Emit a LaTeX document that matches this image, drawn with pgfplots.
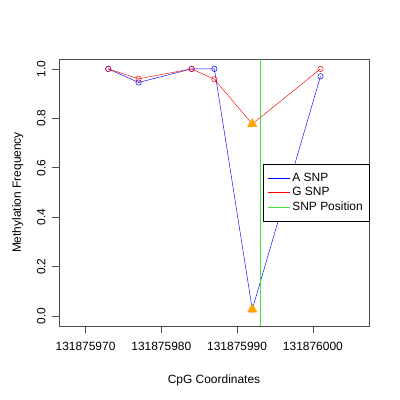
\documentclass[border=0pt]{standalone}
\usepackage{pgfplots}
\pgfplotsset{compat=1.18}
\usepackage{fontspec}
\setmainfont{Liberation Sans}
\definecolor{rorange}{HTML}{FFA500}
\definecolor{rblue}{HTML}{0000FF}
\definecolor{rred}{HTML}{FF0000}
\definecolor{rgreen}{HTML}{44E044}
\begin{document}
\begin{tikzpicture}
\path[use as bounding box] (0,0) rectangle (400bp,400bp);
\begin{axis}[
  at={(59bp,74bp)}, anchor=south west,
  scale only axis, width=310bp, height=267bp,
  xmin=6.5, xmax=47.4,
  ymin=-0.04, ymax=1.04,
  axis line style={black!70, line width=0.8pt},
  xtick={10,20,30,40},
  xticklabels={131875970,131875980,131875990,131876000},
  ytick={0,0.2,0.4,0.6,0.8,1.0},
  yticklabels={0.0,0.2,0.4,0.6,0.8,1.0},
  tick align=outside, tick pos=left,
  major tick length=7bp,
  tick style={black!70, line width=0.6pt},
  ticklabel style={font=\fontsize{12}{14}\selectfont},
  yticklabel style={rotate=90, anchor=south},
  yticklabel shift=3bp,
  xticklabel style={yshift=-6bp},
  xlabel={CpG Coordinates},
  ylabel={Methylation Frequency},
  label style={font=\fontsize{12}{14}\selectfont},
  xlabel style={at={(axis description cs:0.5,0)}, anchor=north, yshift=-45bp},
  ylabel style={at={(axis description cs:0,0.5)}, anchor=south, yshift=32bp},
  legend style={at={(1,0.607)}, anchor=north east,
    font=\fontsize{12}{14}\selectfont, inner xsep=4bp, inner ysep=7bp, row sep=0.7bp,
    /tikz/every even column/.append style={column sep=11bp},
    legend cell align=left},
  clip=false,
]
\addplot[rblue, line width=0.45pt, mark=o, mark size=2.7pt, mark options={line width=0.5pt},
  legend image code/.code={\draw[draw=rblue, line width=0.6pt] (0bp,0bp) -- (22bp,0bp);}]
  coordinates {(13,1.0)(17,0.945)(24,1.0)(27,1.0)(32,0.027)(41,0.97)};
\addlegendentry{A SNP}
\addplot[rred, line width=0.45pt, mark=o, mark size=2.7pt, mark options={line width=0.5pt},
  legend image code/.code={\draw[draw=rred, line width=0.6pt] (0bp,0bp) -- (22bp,0bp);}]
  coordinates {(13,1.0)(17,0.96)(24,1.0)(27,0.958)(32,0.777)(41,1.0)};
\addlegendentry{G SNP}
\addplot[rgreen, line width=0.7pt,
  legend image code/.code={\draw[draw=rgreen, line width=0.8pt] (0bp,0bp) -- (22bp,0bp);}]
  coordinates {(33,-0.04)(33,1.04)};
\addlegendentry{SNP Position}
\addplot[only marks, mark=triangle*, mark size=5.5pt, color=rorange, forget plot]
  coordinates {(32,0.777)(32,0.027)};
\end{axis}
\end{tikzpicture}
\end{document}
